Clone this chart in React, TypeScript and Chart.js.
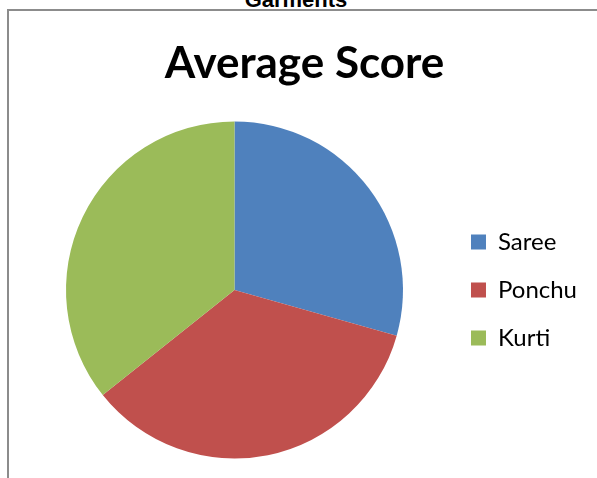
import React, { useEffect, useRef } from "react";
import { Chart, registerables } from "chart.js";

Chart.register(...registerables);

const categories = ["Saree", "Ponchu", "Kurti"];
const averageScores = [3.7, 4.4, 4.5];
const sliceColors = ["#4F81BD", "#C0504D", "#9BBB59"];
const chartTitle = "Average Score";
const pageHeading = "Garments";

export default function App() {
  const canvasRef = useRef<HTMLCanvasElement | null>(null);

  useEffect(() => {
    document.body.style.margin = "0";
    const ctx = canvasRef.current;
    if (!ctx) return;
    const chart = new Chart(ctx, {
      type: "pie",
      data: {
        labels: categories,
        datasets: [
          {
            data: averageScores,
            backgroundColor: sliceColors,
            borderWidth: 0,
          },
        ],
      },
      options: {
        animation: false,
        responsive: false,
        maintainAspectRatio: false,
        layout: { padding: { top: 6, left: 22, right: 10, bottom: 19.5 } },
        plugins: {
          title: {
            display: true,
            text: chartTitle,
            color: "#000000",
            font: { family: "Lato", weight: "bold", size: 44, lineHeight: 1.2 },
            padding: { top: 31, bottom: 31.7 },
          },
          legend: {
            display: true,
            position: "right",
            fullSize: false,
            labels: {
              color: "#000000",
              boxWidth: 15,
              boxHeight: 15,
              padding: 24,
              font: { family: "Lato", size: 24 },
            },
          },
          tooltip: { enabled: false },
        },
      },
    });
    return () => chart.destroy();
  }, []);

  return (
    <div style={{ position: "relative", width: 597, height: 478, overflow: "hidden", background: "#fff" }}>
      <div
        style={{
          position: "absolute",
          left: 196,
          width: 200,
          top: -11,
          textAlign: "center",
          fontFamily: "'Liberation Sans', Arial, sans-serif",
          fontWeight: "bold",
          fontSize: 22,
          lineHeight: "22px",
          color: "#000",
        }}
      >
        {pageHeading}
      </div>
      <div
        style={{
          position: "absolute",
          left: 7,
          top: 9,
          width: 600,
          height: 480,
          borderTop: "2px solid #8c8c8c",
          borderLeft: "2px solid #8c8c8c",
          boxSizing: "border-box",
        }}
      />
      <canvas
        ref={canvasRef}
        width={597}
        height={478}
        style={{ position: "absolute", left: 0, top: 0, width: 597, height: 478 }}
      />
    </div>
  );
}
